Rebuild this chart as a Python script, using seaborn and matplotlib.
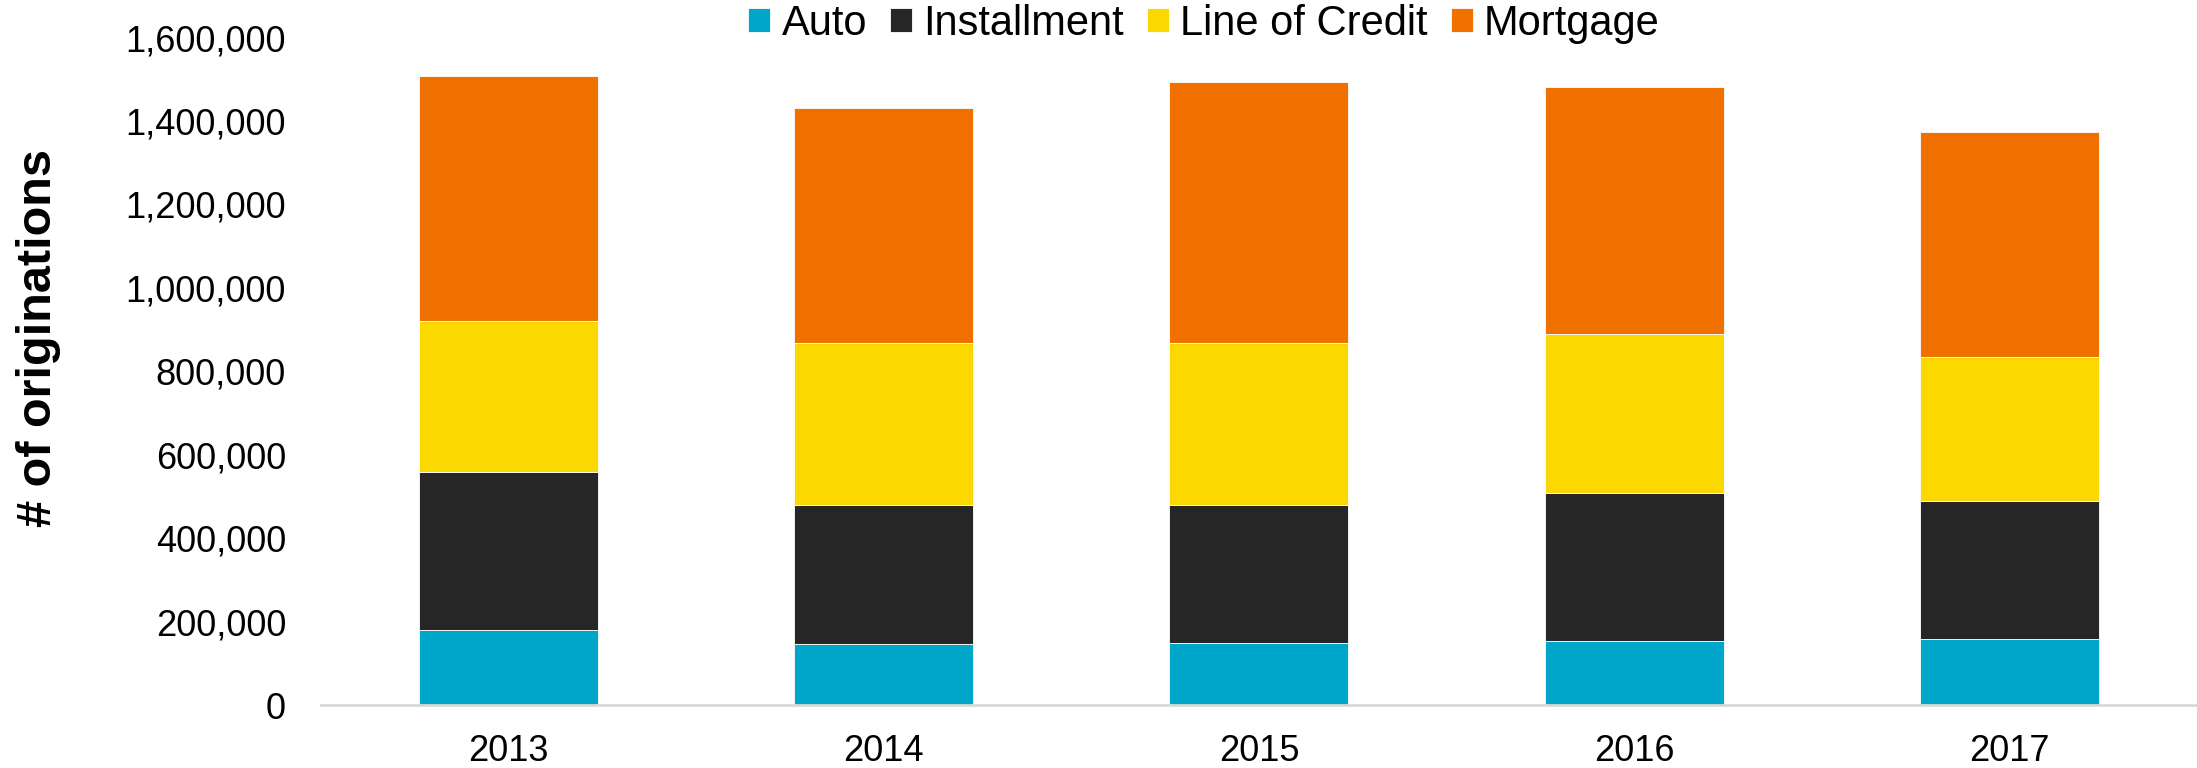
import matplotlib
matplotlib.use("Agg")
import matplotlib.pyplot as plt
import matplotlib.ticker as mticker
import seaborn as sns
import pandas as pd
import numpy as np

years = ["2013", "2014", "2015", "2016", "2017"]
auto = [179000, 147000, 149000, 154000, 159000]
installment = [380000, 332000, 330000, 355000, 329000]
line_of_credit = [362000, 389000, 389000, 380000, 347000]
mortgage = [588000, 564000, 625000, 593000, 538000]

series_names = ["Auto", "Installment", "Line of Credit", "Mortgage"]
series_values = [auto, installment, line_of_credit, mortgage]
colors = ["#00A6CA", "#262626", "#FBD800", "#F07000"]

sns.set_theme(style="white")
plt.rcParams["font.family"] = ["Liberation Sans", "DejaVu Sans"]

fig = plt.figure(figsize=(21.97, 7.68), dpi=100)
ax = fig.add_axes([0.146, 0.082, 0.854, 0.869])

# stacked bars: each series sits on the running total of the ones below
bottom = np.zeros(len(years))
for name, vals, col in zip(series_names, series_values, colors):
    df = pd.DataFrame({"year": years, "value": vals})
    sns.barplot(data=df, x="year", y="value", color=col, width=0.477,
                bottom=bottom, ax=ax, label=name, edgecolor="white",
                linewidth=0.6, saturation=1)
    bottom = bottom + np.array(vals)

ax.set_xlim(-0.5, 4.5)
ax.set_ylim(0, 1600000)
ax.set_yticks(np.arange(0, 1600001, 200000))
ax.yaxis.set_major_formatter(mticker.FuncFormatter(lambda v, p: f"{int(v):,}"))
ax.tick_params(axis="y", labelsize=26, pad=25, length=0, colors="black")
ax.tick_params(axis="x", labelsize=26, pad=21, length=0, colors="black")
ax.set_xlabel("")
ax.set_ylabel("# of originations", fontsize=35, fontweight="bold", color="black")
ax.yaxis.set_label_coords(-0.1385, 0.55)

for s in ["top", "right", "left"]:
    ax.spines[s].set_visible(False)
ax.spines["bottom"].set_color("#d9d9d9")
ax.spines["bottom"].set_linewidth(2)

handles, labels = ax.get_legend_handles_labels()
ax.legend(handles, labels, loc="center", bbox_to_anchor=(0.548, 0.969),
          bbox_transform=fig.transFigure, ncol=4, frameon=False, fontsize=30,
          handlelength=0.53, handleheight=0.53, handletextpad=0.27,
          columnspacing=0.55, borderpad=0, labelcolor="black")

fig.savefig("out.png", dpi=100)
